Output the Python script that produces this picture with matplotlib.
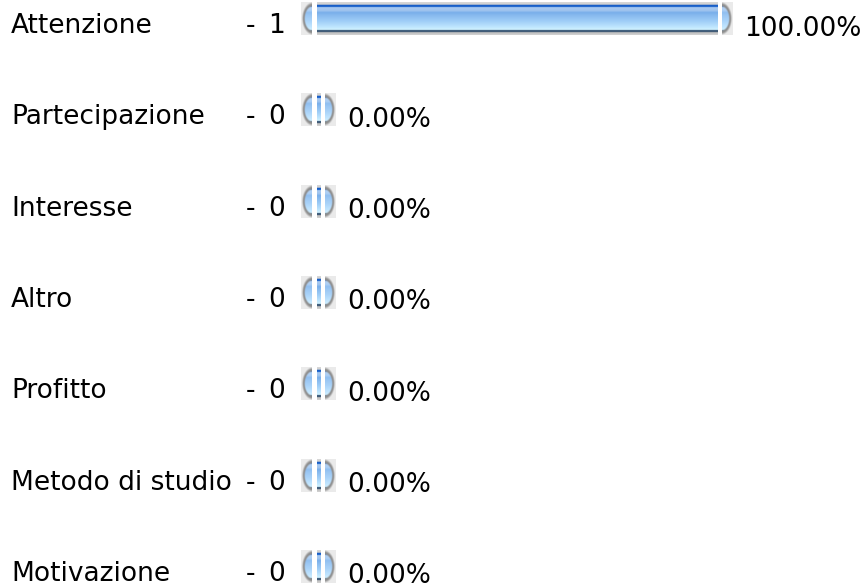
import numpy as np
import matplotlib
matplotlib.use("Agg")
import matplotlib.pyplot as plt

# ---- data ----
categories = ["Attenzione", "Partecipazione", "Interesse", "Altro",
              "Profitto", "Metodo di studio", "Motivazione"]
counts = [1, 0, 0, 0, 0, 0, 0]
percents = [100.0, 0.0, 0.0, 0.0, 0.0, 0.0, 0.0]

W, H, DPI = 867, 586, 100
fig = plt.figure(figsize=(W / DPI, H / DPI), dpi=DPI)
fig.patch.set_facecolor("white")

# pixel-coordinate overlay axes
ax = fig.add_axes([0, 0, 1, 1])
ax.set_xlim(0, W)
ax.set_ylim(H, 0)
ax.axis("off")

# value axes: 0..100 %  (bar growth region)
BAR_X0, BAR_X1 = 321, 718
n = len(categories)
row_top, row_step = 18.5, 91.3
ax_b = fig.add_axes([BAR_X0 / W, 0, (BAR_X1 - BAR_X0) / W, 1])
ax_b.set_xlim(0, 100)
ax_b.set_ylim((H - row_top) / row_step, -row_top / row_step)
ax_b.axis("off")
ax_b.patch.set_alpha(0)

to_px = lambda x, y: ax.transData.inverted().transform(ax_b.transData.transform((x, y)))


def hexrgb(h):
    h = h.lstrip("#")
    return np.array([int(h[i:i + 2], 16) / 255 for i in (0, 2, 4)])


# vertical colour profile of the glossy bar (33 px tall)
stops = [(0.0, "#d9d9d9"), (2.5, "#cdcdcd"), (3.0, "#0a55c6"), (4.9, "#1760ca"),
         (5.0, "#a9caf0"), (8.5, "#a0c4ee"), (10.5, "#78aeea"), (13.0, "#86b9ee"),
         (19.0, "#9fcdf7"), (25.0, "#bfe6fe"), (28.0, "#d4f5ff"), (28.1, "#2b4b6c"),
         (30.0, "#33506e"), (30.1, "#b9b9b9"), (33.0, "#d4d4d4")]
BH = 33
ys = np.linspace(0, BH, 200)
sp = np.array([s[0] for s in stops])
sc = np.array([hexrgb(s[1]) for s in stops])
profile = np.stack([np.interp(ys, sp, sc[:, k]) for k in range(3)], axis=1)
bar_img = profile[:, None, :].repeat(2, axis=1)


def make_cap(side):
    cw, ch = 11, 33
    s = 8
    xs = (np.arange(cw * s) + 0.5) / s
    yy = (np.arange(ch * s) + 0.5) / s
    X, Y = np.meshgrid(xs, yy)
    cx = cw + 0.5 if side == "left" else -0.5
    cy = ch / 2
    d = np.sqrt(((X - cx) / 9.0) ** 2 + ((Y - cy) / 14.0) ** 2)
    bg = hexrgb("#ebebeb")
    ring = hexrgb("#8e8e8e")
    inner = np.stack([np.interp(Y, sp, sc[:, k]) for k in range(3)], axis=2)
    inner = 0.7 * inner + 0.3 * hexrgb("#c8e4ff")
    t_in = np.clip((d - 0.80) / 0.12, 0, 1)[..., None]
    t_out = np.clip((d - 1.0) / 0.18, 0, 1)[..., None]
    img = inner * (1 - t_in) + ring * t_in
    img = img * (1 - t_out) + bg * t_out
    return img


cap_l = make_cap("left")
cap_r = make_cap("right")

FS = 19
TXT = "#000000"
for i, (cat, c, p) in enumerate(zip(categories, counts, percents)):
    x0, yc = to_px(0, i)
    xe, _ = to_px(p, i)
    top = yc - BH / 2
    bot = yc + BH / 2
    # left cap
    ax.imshow(cap_l, extent=(x0 - 20, x0 - 9, bot, top), aspect="auto",
              interpolation="bilinear", zorder=2)
    # main bar (4px stub + value length)
    ax.imshow(bar_img, extent=(x0 - 4, xe, bot, top), aspect="auto",
              interpolation="bilinear", zorder=2)
    # right cap
    ax.imshow(cap_r, extent=(xe + 4, xe + 15, bot, top), aspect="auto",
              interpolation="bilinear", zorder=2)
    # texts
    ax.text(11, yc + 14.5, cat, fontsize=FS, family="DejaVu Sans",
            color=TXT, va="baseline", ha="left")
    ax.text(250.5, yc + 14.5, "-", fontsize=FS, family="DejaVu Sans",
            color=TXT, va="baseline", ha="center")
    ax.text(268, yc + 14.5, f"{c}", fontsize=FS, family="DejaVu Sans",
            color=TXT, va="baseline", ha="left")
    ax.text(xe + 26, yc + 17.0, f"{p:.2f}%", fontsize=FS, family="DejaVu Sans",
            color=TXT, va="baseline", ha="left")

ax.set_xlim(0, W)
ax.set_ylim(H, 0)
fig.savefig("out.png", dpi=DPI, facecolor="white")
